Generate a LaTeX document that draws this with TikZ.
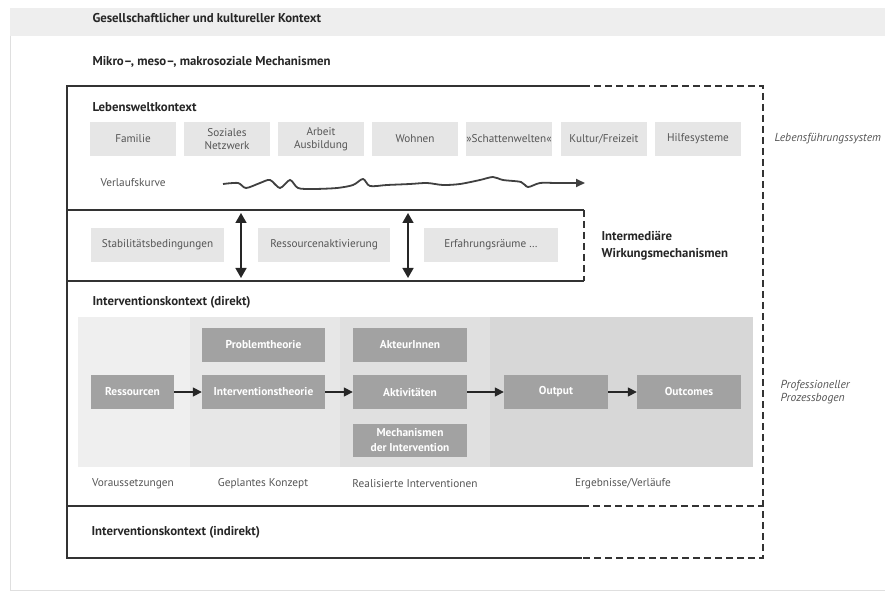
\documentclass[tikz,border=0pt]{standalone}
\usepackage{fontspec}
\setmainfont{PT Sans}
\usetikzlibrary{arrows.meta}
\definecolor{framecol}{HTML}{333333}
\definecolor{boxlight}{HTML}{E6E6E6}
\definecolor{boxdark}{HTML}{A2A2A2}
\definecolor{textgray}{HTML}{555555}
\definecolor{colA}{HTML}{EFEFEF}
\definecolor{colB}{HTML}{E7E7E7}
\definecolor{colC}{HTML}{E0E0E0}
\definecolor{colD}{HTML}{D7D7D7}
\definecolor{strip}{HTML}{EEEEEE}
\tikzset{
  lbox/.style={fill=boxlight, text=textgray, minimum height=34pt, align=center,
    font=\fontsize{11.2}{13.5}\selectfont, inner sep=0pt},
  dbox/.style={fill=boxdark, text=white, minimum height=34pt, align=center,
    font=\bfseries\fontsize{11.4}{14}\selectfont, inner sep=0pt},
  frame/.style={draw=framecol, line width=1.8pt},
  dframe/.style={frame, dash pattern=on 7pt off 4pt},
  flow/.style={-{Triangle[length=9pt,width=9pt]}, line width=1.6pt, draw=black!85},
  dflow/.style={{Triangle[length=10pt,width=11pt]}-{Triangle[length=10pt,width=11pt]}, line width=1.6pt, draw=black!85},
  head/.style={anchor=west, text=black!85, font=\bfseries\fontsize{12.8}{15}\selectfont},
  plain/.style={text=textgray, font=\fontsize{11.3}{13}\selectfont},
  side/.style={anchor=west, align=left, text=textgray, font=\itshape\fontsize{11.6}{13}\selectfont},
}
\begin{document}
\begin{tikzpicture}[x=1pt,y=-1pt]
\useasboundingbox (0,0) rectangle (885,593);
% page background
\fill[strip] (10,8) rectangle (885,36);
\draw[gray!25, line width=0.6pt] (10,36) -- (10,590) -- (885,590);
\node[head] (gesell) at (89,18) {Gesellschaftlicher und kultureller Kontext};
\node[head] (mikro) at (89,62) {Mikro--, meso--, makrosoziale Mechanismen};

% process area backgrounds
\fill[colA] (78,317) rectangle (190,467);
\fill[colB] (190,317) rectangle (340,467);
\fill[colC] (340,317) rectangle (490,467);
\fill[colD] (490,317) rectangle (753,467);

% frame coordinates
\coordinate (tl) at (67,86);
\coordinate (ts) at (583,86);
\coordinate (tr) at (763,86);
\coordinate (bl) at (67,558);
\coordinate (bs) at (582,558);
\coordinate (br) at (763,558);
\coordinate (m1l) at (67,210);
\coordinate (m1r) at (584,210);
\coordinate (m2l) at (67,281);
\coordinate (m2r) at (584,281);
\coordinate (m3l) at (67,506);
\coordinate (m3s) at (582,506);
\coordinate (m3r) at (763,506);

\draw[frame] (ts) -- (tl) -- (bl) -- (bs);
\draw[dframe] (ts) -- (tr) -- (br) -- (bs);
\draw[frame] (m1l) -- (m1r);
\draw[dframe] (m1r) -- (m2r);
\draw[frame] (m2l) -- (m2r);
\draw[frame] (m3l) -- (m3s);
\draw[dframe] (m3s) -- (m3r);

% Lebensweltkontext
\node[head] (lwk) at (89,107) {Lebensweltkontext};
\node[lbox, minimum width=86pt] (fam) at (133,139) {Familie};
\node[lbox, minimum width=86pt] (soz) at (227,139) {Soziales\\Netzwerk};
\node[lbox, minimum width=86pt] (arb) at (321,139) {Arbeit\\Ausbildung};
\node[lbox, minimum width=86pt] (woh) at (415,139) {Wohnen};
\node[lbox, minimum width=86pt] (sch) at (509,139) {»Schattenwelten«};
\node[lbox, minimum width=86pt] (kul) at (604,139) {Kultur/Freizeit};
\node[lbox, minimum width=86pt] (hil) at (698,139) {Hilfesysteme};
\node[side] (lfs) at (771,139) {Lebensführungssystem};

\node[plain, anchor=west] (vk) at (97,183) {Verlaufskurve};
\draw[line width=1.8pt, draw=black!75, -{Triangle[length=9pt,width=8pt]}]
  plot[smooth, tension=0.5] coordinates {(223,184) (238,183) (246,188) (260,183) (270,180) (280,188) (290,180) (298,188) (313,189) (337,188) (353,185) (363,179) (370,186) (387,185) (410,184) (427,183) (443,185) (460,184) (480,180) (493,177) (503,180) (521,182) (528,187) (540,183) (557,183) (585,183)};

% intermediary
\node[lbox, minimum width=133pt] (stab) at (157.5,245) {Stabilitätsbedingungen};
\node[lbox, minimum width=132pt] (ress) at (324,245) {Ressourcenaktivierung};
\node[lbox, minimum width=134pt] (erf) at (491,245) {Erfahrungsräume \dots};
\coordinate (a1t) at (241,213);
\coordinate (a1b) at (241,278);
\coordinate (a2t) at (408,213);
\coordinate (a2b) at (408,278);
\draw[dflow] (a1t) -- (a1b);
\draw[dflow] (a2t) -- (a2b);
\node[anchor=west, align=left, text=black!85, font=\bfseries\fontsize{12.8}{17}\selectfont] (iwm) at (598,245.5) {Intermediäre\\Wirkungsmechanismen};

% Interventionskontext (direkt)
\node[head] (ikd) at (89,302) {Interventionskontext (direkt)};
\node[dbox, minimum width=83pt] (res) at (132.5,392) {Ressourcen};
\node[dbox, minimum width=123pt] (prob) at (263.5,344.5) {Problemtheorie};
\node[dbox, minimum width=123pt] (int) at (263.5,392) {Interventionstheorie};
\node[dbox, minimum width=114pt] (akt) at (410,344.5) {AkteurInnen};
\node[dbox, minimum width=114pt] (akv) at (410,392) {Aktivitäten};
\node[dbox, minimum width=114pt, minimum height=33pt, font=\bfseries\fontsize{11.4}{15}\selectfont] (mech) at (410,440.5) {Mechanismen\\der Intervention};
\node[dbox, minimum width=104pt] (out) at (556,392) {Output};
\node[dbox, minimum width=104pt] (outc) at (689,392) {Outcomes};
\draw[flow] (res) -- (int);
\draw[flow] (int) -- (akv);
\draw[flow] (akv) -- (out);
\draw[flow] (out) -- (outc);
\node[side] (ppb) at (777,392) {Professioneller\\Prozessbogen};

\node[plain] (vor) at (133,484) {Voraussetzungen};
\node[plain] (gep) at (263,484) {Geplantes Konzept};
\node[plain] (real) at (415,484) {Realisierte Interventionen};
\node[plain] (erg) at (623,484) {Ergebnisse/Verläufe};

% indirekt
\node[head] (iki) at (88,532) {Interventionskontext (indirekt)};
\end{tikzpicture}
\end{document}
